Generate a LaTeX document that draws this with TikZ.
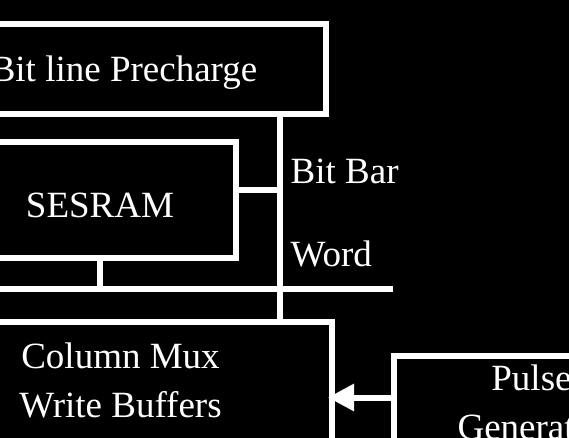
\documentclass[tikz,border=0pt]{standalone}
\usepackage{fontspec}
\setmainfont{Liberation Serif}
\usetikzlibrary{arrows.meta}
\tikzset{
  blk/.style={draw=white, line width=6pt, inner sep=0pt},
  lbl/.style={text=white, font=\fontsize{37}{49}\selectfont, inner sep=0pt},
  wire/.style={draw=white, line width=6pt},
}

\begin{document}
\begin{tikzpicture}[x=1pt,y=-1pt]
  \clip (0,0) rectangle (569,438);
  \fill[black] (0,0) rectangle (569,438);

  % blocks (partly off the page)
  \node[blk, minimum width=404pt, minimum height=89.5pt] (prech) at (123.5,69.25) {};
  \node[blk, minimum width=272pt, minimum height=115.5pt] (sesram) at (100,200.25) {};
  \node[blk, minimum width=422pt, minimum height=198pt] (colmux) at (120.5,421) {};
  \node[blk, minimum width=276pt, minimum height=164pt] (pulse) at (531.5,438) {};

  \node[lbl, anchor=base] (prechtxt) at (124,82) {Bit line Precharge};
  \node[lbl, anchor=base] (sestxt) at (100,217) {SESRAM};
  \node[lbl, anchor=base, align=center] (cmtxt) at (120.5,417) {Column Mux\\Write Buffers};
  \node[lbl, anchor=base, align=center] (pgtxt) at (531.5,439) {Pulse\\Generator};

  % bit line and word line
  \coordinate (bitx) at (279.5,0);
  \coordinate (bbar) at (279.5,190);
  \coordinate (wl) at (-5,289);
  \coordinate (wr) at (393,289);
  \coordinate (pgy) at (0,397.5);
  \draw[wire] (prech.south -| bitx) -- (colmux.north -| bitx);
  \draw[wire] (sesram.east |- bbar) -- (bbar);
  \draw[wire] (wl) -- (wr);
  \draw[wire] (sesram.south) -- (sesram.south |- wl);
  \node[lbl, anchor=base west] (bbtxt) at (290.5,183) {Bit Bar};
  \node[lbl, anchor=base west] (wtxt) at (290.5,266) {Word};

  % write pulse
  \draw[wire, -{Triangle[length=26pt,width=26pt]}, shorten >=-6.5pt]
    (pulse.west |- pgy) -- (colmux.east |- pgy);
\end{tikzpicture}
\end{document}
